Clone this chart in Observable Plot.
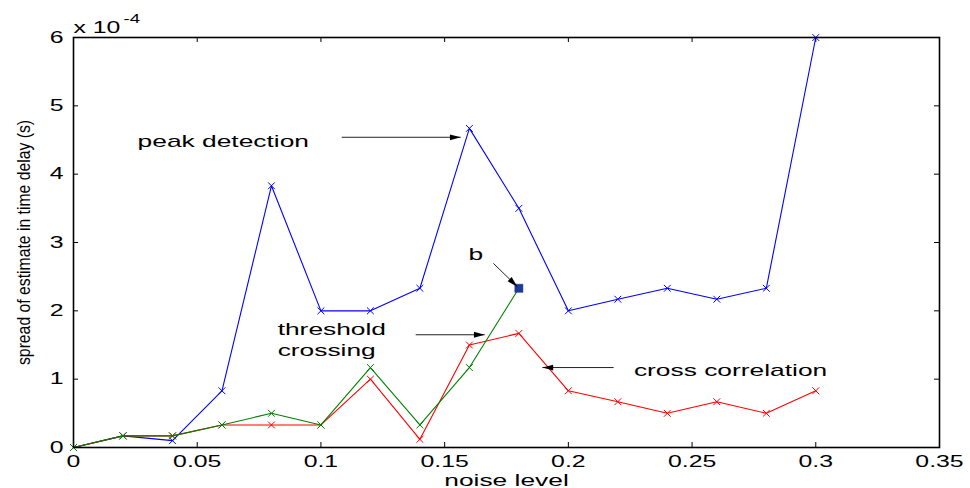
<!DOCTYPE html>
<html>
<head>
<meta charset="utf-8">
<script src="https://cdn.jsdelivr.net/npm/d3@7"></script>
<script src="https://cdn.jsdelivr.net/npm/@observablehq/plot@0.6"></script>
<style>
  html, body { margin: 0; padding: 0; background: #ffffff; }
</style>
</head>
<body>
<script>
// ---- data (values in units of 1e-4 s) ----
const noiseLevel = [0, 0.02, 0.04, 0.06, 0.08, 0.10, 0.12, 0.14, 0.16, 0.18, 0.20, 0.22, 0.24, 0.26, 0.28, 0.30];
const peakDetection = [0, 0.17, 0.10, 0.83, 3.83, 2.00, 2.00, 2.33, 4.67, 3.50, 2.00, 2.17, 2.33, 2.17, 2.33, 6.00];
const crossCorrelation = [0, 0.17, 0.17, 0.33, 0.33, 0.33, 1.00, 0.12, 1.50, 1.67, 0.83, 0.67, 0.50, 0.67, 0.50, 0.83];
const thresholdCrossing = [0, 0.17, 0.17, 0.33, 0.50, 0.33, 1.17, 0.33, 1.17, 2.33];
const pointB = [{x: 0.18, y: 2.33}];

const xTicks = [0, 0.05, 0.1, 0.15, 0.2, 0.25, 0.3, 0.35];
const xTickLabels = ["0", "0.05", "0.1", "0.15", "0.2", "0.25", "0.3", "0.35"];
const yTicks = [0, 1, 2, 3, 4, 5, 6];
const yTickLabels = ["0", "1", "2", "3", "4", "5", "6"];
const xLabel = "noise level";
const yLabel = "spread of estimate in time delay (s)";
const exponentBase = ["x 10"];
const exponentPower = ["-4"];

// annotations (data coordinates)
const noteText = ["peak detection", "b", "threshold", "crossing", "cross correlation"];
const noteX = [0.0259, 0.1596, 0.0825, 0.0825, 0.2265];
const noteY = [4.48, 2.83, 1.72, 1.42, 1.13];
const arrowX1 = [0.1084, 0.1697, 0.1383, 0.2183];
const arrowY1 = [4.54, 2.694, 1.65, 1.17];
const arrowX2 = [0.1565, 0.1794, 0.1662, 0.1895];
const arrowY2 = [4.54, 2.353, 1.65, 1.17];

// ---- layout ----
const W = 970, H = 488, mL = 73, mR = 31, mT = 37, mB = 41;
const fw = W - mL - mR, fh = H - mT - mB;
const kx = fw / 0.35, ky = fh / 6;
const STRETCH = 1.55;
const Y_LABEL_LENGTH = 245;

const toSeries = (ys) => ys.map((y, i) => ({x: noiseLevel[i], y}));
const peak = toSeries(peakDetection);
const cross = toSeries(crossCorrelation);
const thresh = toSeries(thresholdCrossing);
const notes = noteText.map((t, i) => ({t, x: noteX[i], y: noteY[i]}));
const arrows = arrowX1.map((x1, i) => {
  const x2 = arrowX2[i], y1 = arrowY1[i], y2 = arrowY2[i];
  const rot = Math.atan2((x2 - x1) * kx, (y2 - y1) * ky) * 180 / Math.PI;
  return {x1, y1, x2, y2, rot};
});

const arrowHead = {
  draw(ctx, size) {
    const r = Math.sqrt(size / Math.PI);
    ctx.moveTo(0, 0);
    ctx.lineTo(-0.8 * r, 3 * r);
    ctx.lineTo(0.8 * r, 3 * r);
    ctx.closePath();
  }
};

const BLUE = "#0000ff", RED = "#ff0000", GREEN = "#008000";

const plot = Plot.plot({
  width: W, height: H,
  marginLeft: mL, marginRight: mR, marginTop: mT, marginBottom: mB,
  style: {fontFamily: "'Liberation Sans', Arial, sans-serif", background: "#ffffff", color: "#000000"},
  x: {domain: [0, 0.35], label: null},
  y: {domain: [0, 6], label: null},
  marks: [
    // tick labels
    Plot.axisX({ticks: xTicks, tickSize: 0, tickPadding: 8, fontSize: 16, label: null,
      tickFormat: d => xTickLabels[xTicks.indexOf(d)]}),
    Plot.axisY({ticks: yTicks, tickSize: 0, tickPadding: 10, fontSize: 16, label: null,
      tickFormat: d => yTickLabels[yTicks.indexOf(d)]}),
    // inward ticks on all four sides
    Plot.tickX(xTicks, {x: d => d, insetTop: fh - 5, stroke: "#000", strokeWidth: 1}),
    Plot.tickX(xTicks, {x: d => d, insetBottom: fh - 5, stroke: "#000", strokeWidth: 1}),
    Plot.tickY(yTicks, {y: d => d, insetRight: fw - 5, stroke: "#000", strokeWidth: 1}),
    Plot.tickY(yTicks, {y: d => d, insetLeft: fw - 5, stroke: "#000", strokeWidth: 1}),
    // series
    Plot.line(peak, {x: "x", y: "y", stroke: BLUE, strokeWidth: 1.1}),
    Plot.dot(peak, {x: "x", y: "y", symbol: "times", r: 3.2, stroke: BLUE, strokeWidth: 1}),
    Plot.line(cross, {x: "x", y: "y", stroke: RED, strokeWidth: 1.1}),
    Plot.dot(cross, {x: "x", y: "y", symbol: "times", r: 3.2, stroke: RED, strokeWidth: 1}),
    Plot.line(thresh, {x: "x", y: "y", stroke: GREEN, strokeWidth: 1.1}),
    Plot.dot(thresh, {x: "x", y: "y", symbol: "times", r: 3.2, stroke: GREEN, strokeWidth: 1}),
    Plot.dot(pointB, {x: "x", y: "y", symbol: "square", r: 4.6, fill: "#1c3a96", stroke: "#1c3a96", strokeWidth: 0.5}),
    // annotation arrows
    Plot.link(arrows, {x1: "x1", y1: "y1", x2: "x2", y2: "y2", stroke: "#222", strokeWidth: 1}),
    Plot.dot(arrows, {x: "x2", y: "y2", symbol: arrowHead, r: 3.6, rotate: "rot", fill: "#000", stroke: "none"}),
    // annotation text
    Plot.text(notes, {x: "x", y: "y", text: "t", textAnchor: "start", lineAnchor: "middle", fontSize: 17, fill: "#000"}),
    // axis labels
    Plot.text([xLabel], {text: d => d, frameAnchor: "bottom", dy: 38, lineAnchor: "bottom", fontSize: 17, fill: "#000"}),
    Plot.text([yLabel], {text: d => d, frameAnchor: "left", textAnchor: "middle", rotate: -90, dx: -49, lineAnchor: "middle", fontSize: 17.5, fill: "#000"}),
    // exponent
    Plot.text(exponentBase, {text: d => d, frameAnchor: "top-left", textAnchor: "start", lineAnchor: "bottom", dy: -5, fontSize: 16, fill: "#000"}),
    Plot.text(exponentPower, {text: d => d, frameAnchor: "top-left", textAnchor: "start", lineAnchor: "bottom", dx: 50, dy: -15, fontSize: 12, fill: "#000"}),
    // box
    Plot.frame({stroke: "#000", strokeWidth: 1.6})
  ]
});

document.body.appendChild(plot);

// horizontally stretch text glyphs to match the reference's wide lettering;
// the rotated y label is condensed along its length instead
plot.querySelectorAll("text").forEach(t => {
  const tr = t.getAttribute("transform") || "";
  if (tr.includes("rotate")) {
    t.setAttribute("textLength", Y_LABEL_LENGTH);
    t.setAttribute("lengthAdjust", "spacingAndGlyphs");
    return;
  }
  const len = t.getComputedTextLength();
  if (len > 0) {
    t.setAttribute("textLength", (len * STRETCH).toFixed(1));
    t.setAttribute("lengthAdjust", "spacingAndGlyphs");
  }
});
</script>
</body>
</html>
